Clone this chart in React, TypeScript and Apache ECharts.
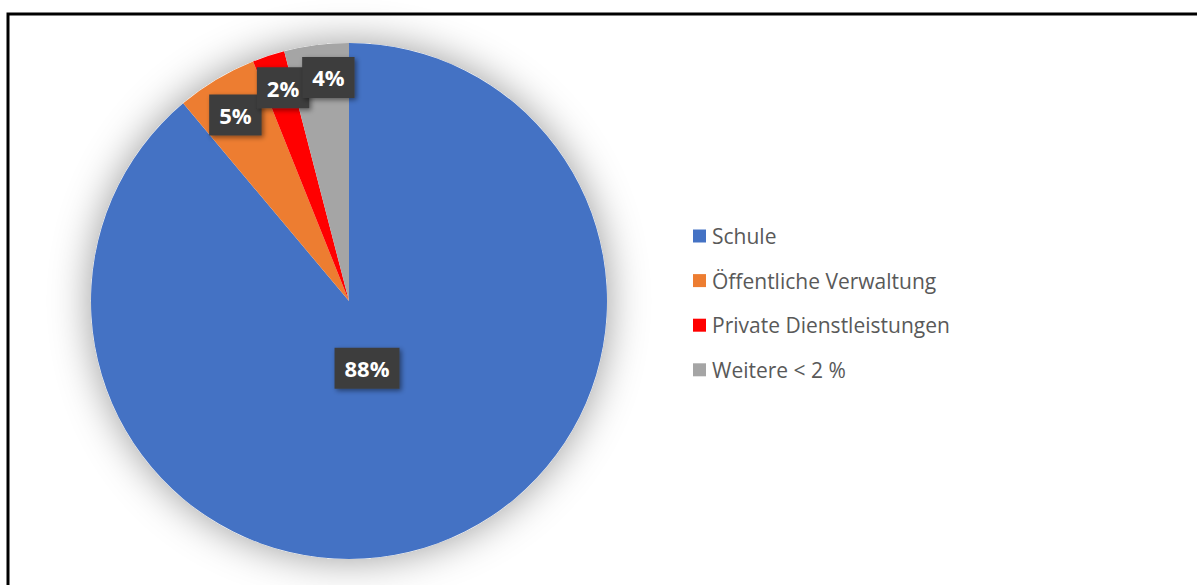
import React, { useEffect, useRef } from "react";
import * as echarts from "echarts";

const categories = ["Schule", "Öffentliche Verwaltung", "Private Dienstleistungen", "Weitere < 2 %"];
const values = [88, 5, 2, 4];
const colors = ["#4472C4", "#ED7D31", "#FF0000", "#A5A5A5"];
// label placement: fraction of radius along each slice's mid angle
const labelRadiusFrac = [0.27, 0.845, 0.865, 0.87];
const labelAngleNudge = [5, -0.5, 1, 2];

const CX = 349;
const CY = 301;
const R = 258;

export default function App() {
  const ref = useRef<HTMLDivElement>(null);
  useEffect(() => {
    if (!ref.current) return;
    const chart = echarts.init(ref.current, undefined, { renderer: "svg" });
    const total = values.reduce((a, b) => a + b, 0);
    const mids: number[] = [];
    let acc = 0;
    values.forEach((v) => {
      mids.push(((acc + v / 2) / total) * 360);
      acc += v;
    });
    chart.setOption({
      animation: false,
      backgroundColor: "#ffffff",
      graphic: [
        {
          type: "rect",
          shape: { x: 8, y: 14, width: 1194, height: 580 },
          style: { fill: "none", stroke: "#000", lineWidth: 3 },
          silent: true,
        },
      ],
      legend: {
        orient: "vertical",
        left: 688,
        top: 220,
        data: categories,
        icon: "rect",
        itemWidth: 13,
        itemHeight: 13,
        itemGap: 22.6,
        textStyle: {
          fontFamily: "Open Sans",
          fontSize: 21,
          lineHeight: 22,
          color: "#595959",
          padding: [0, 0, 0, 1],
        },
        selectedMode: false,
      },
      series: [
        {
          type: "pie",
          center: [CX, CY],
          radius: R,
          silent: true,
          data: [{ value: 1, name: "__shadow" }],
          label: { show: false },
          labelLine: { show: false },
          itemStyle: { color: "#ffffff", shadowBlur: 40, shadowColor: "rgba(0,0,0,0.4)" },
        },
        {
          type: "pie",
          center: [CX, CY],
          radius: R,
          startAngle: 90,
          clockwise: true,
          silent: true,
          data: categories.map((name, i) => ({ name, value: values[i], itemStyle: { color: colors[i] } })),
          label: {
            show: true,
            position: "inside",
            formatter: (p: any) => `${p.value}%`,
            color: "#ffffff",
            fontFamily: "Open Sans",
            fontWeight: "bold",
            fontSize: 22,
            lineHeight: 24,
            backgroundColor: "#3c3c3c",
            padding: [9, 10, 8, 10],
            shadowBlur: 5,
            shadowOffsetX: 2,
            shadowOffsetY: 2,
            shadowColor: "rgba(0,0,0,0.45)",
          },
          labelLine: { show: false },
          labelLayout: (params: any) => {
            const i = params.dataIndex;
            const a = ((mids[i] + labelAngleNudge[i]) * Math.PI) / 180;
            const rr = R * labelRadiusFrac[i];
            return {
              x: CX + rr * Math.sin(a),
              y: CY - rr * Math.cos(a),
              align: "center",
              verticalAlign: "middle",
            };
          },
        },
      ],
    });
    return () => chart.dispose();
  }, []);
  return (
    <div
      ref={ref}
      style={{ position: "fixed", left: 0, top: 0, width: 1197, height: 585 }}
    />
  );
}
